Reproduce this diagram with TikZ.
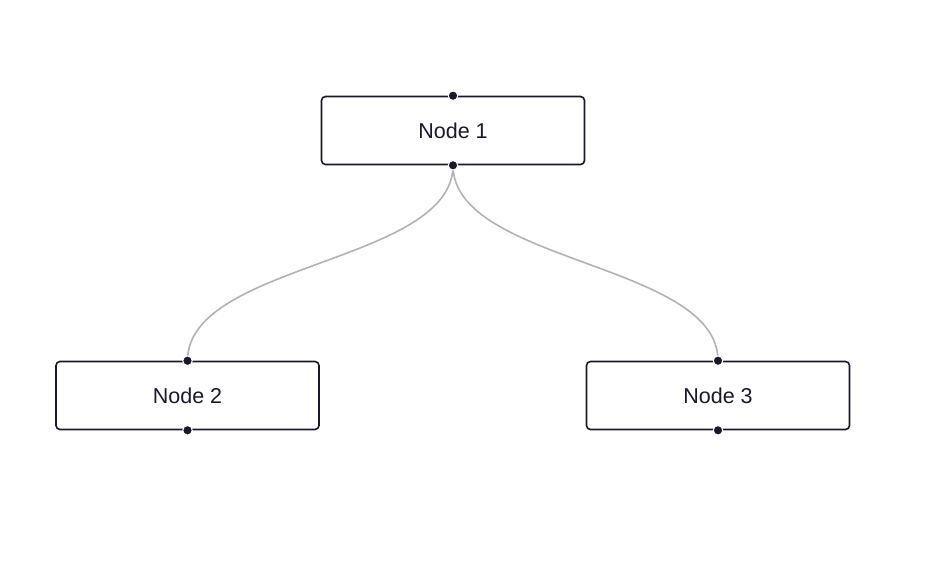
\documentclass[tikz,border=0pt]{standalone}
\usepackage{fontspec}
\setmainfont{Liberation Sans}
\definecolor{rfdark}{HTML}{1A192B}
\definecolor{rfedge}{HTML}{B1B1B7}
\begin{document}
\begin{tikzpicture}[x=1pt,y=-1pt,
  flownode/.style={draw=rfdark, line width=1.6pt, rounded corners=4pt, fill=white,
    minimum width=263pt, minimum height=68pt, inner sep=0pt,
    font=\fontsize{21.5}{24}\selectfont, text=rfdark},
  handle/.style={circle, fill=rfdark, draw=white, line width=1pt, minimum size=9.5pt, inner sep=0pt},
  flowedge/.style={draw=rfedge, line width=1.6pt}]
\useasboundingbox (0,0) rectangle (947,571);
\node[flownode] (n1) at (453,130.5) {Node 1};
\node[flownode] (n2) at (187.5,395.5) {Node 2};
\node[flownode] (n3) at (718,395.5) {Node 3};
\foreach \n in {n1,n2,n3}{
  \coordinate (\n t) at (\n.north);
  \coordinate (\n b) at (\n.south);
}
\draw[flowedge] (n1b) .. controls ([yshift=-98]n1b) and ([yshift=98]n2t) .. (n2t);
\draw[flowedge] (n1b) .. controls ([yshift=-98]n1b) and ([yshift=98]n3t) .. (n3t);
\foreach \n in {n1,n2,n3}{
  \node[handle] (\n ht) at (\n t) {};
  \node[handle] (\n hb) at (\n b) {};
}
\end{tikzpicture}
\end{document}
